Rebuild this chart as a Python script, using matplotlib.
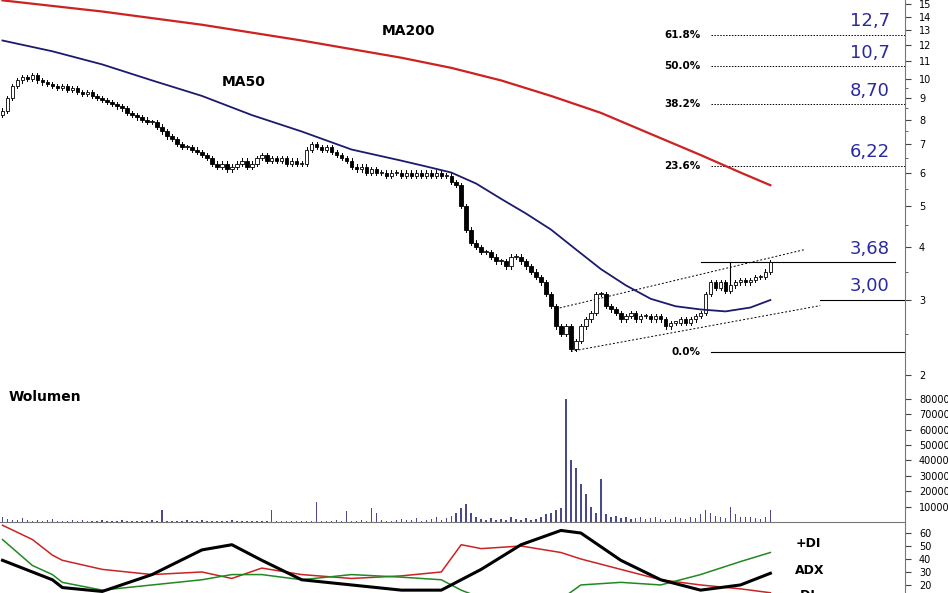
import numpy as np
import matplotlib
matplotlib.use("Agg")
import matplotlib.pyplot as plt
from matplotlib.ticker import FixedLocator, NullFormatter

close = [8.4, 9.0, 9.6, 9.9, 10.1, 10.0, 10.2, 9.9, 9.8, 9.7,
         9.6, 9.5, 9.6, 9.4, 9.5, 9.3, 9.2, 9.3, 9.1, 9.0,
         8.9, 8.8, 8.7, 8.6, 8.5, 8.3, 8.2, 8.1, 8.0, 7.9,
         7.9, 7.7, 7.5, 7.3, 7.2, 7.0, 6.9, 6.9, 6.8, 6.7,
         6.6, 6.5, 6.3, 6.2, 6.3, 6.1, 6.2, 6.3, 6.4, 6.2,
         6.3, 6.5, 6.6, 6.4, 6.5, 6.4, 6.5, 6.3, 6.4, 6.3,
         6.3, 6.8, 7.0, 6.9, 6.8, 6.9, 6.7, 6.6, 6.5, 6.4,
         6.2, 6.1, 6.2, 6.0, 6.1, 6.0, 6.0, 5.9, 6.0, 6.0,
         5.9, 6.0, 5.9, 6.0, 5.9, 6.0, 5.9, 6.0, 5.9, 5.9,
         5.7, 5.6, 5.0, 4.4, 4.1, 4.0, 3.9, 3.9, 3.8, 3.7,
         3.7, 3.6, 3.8, 3.8, 3.7, 3.6, 3.5, 3.4, 3.3, 3.1,
         2.9, 2.6, 2.5, 2.6, 2.3, 2.4, 2.6, 2.7, 2.8, 3.1,
         3.1, 2.9, 2.85, 2.8, 2.7, 2.75, 2.8, 2.7, 2.75, 2.75,
         2.7, 2.75, 2.7, 2.6, 2.65, 2.65, 2.7, 2.65, 2.7, 2.75,
         2.8, 3.1, 3.3, 3.2, 3.3, 3.15, 3.25, 3.3, 3.35, 3.3,
         3.35, 3.4, 3.4, 3.5, 3.68]
open_first = 8.2

volume = [3000, 2000, 1500, 1000, 2500, 1200, 800, 1500, 600, 1000,
          2000, 800, 500, 700, 1200, 900, 1000, 600, 400, 800,
          1500, 700, 500, 900, 1100, 600, 800, 700, 500, 900,
          1200, 800, 8000, 600, 900, 700, 500, 1000, 800, 600,
          1500, 700, 600, 900, 800, 500, 1100, 600, 700, 900,
          800, 600, 700, 900, 8000, 600, 500, 700, 800, 600,
          900, 700, 500, 13000, 800, 600, 700, 1000, 500, 7000,
          900, 800, 1200, 900, 9000, 6000, 1000, 800, 900, 1100,
          2000, 1500, 1000, 2500, 800, 1200, 2000, 3000, 1500, 2500,
          4000, 6000, 9000, 12000, 6000, 3000, 2000, 1500, 2500, 1500,
          2000, 1500, 3000, 2000, 1500, 2500, 1500, 2000, 3000, 5000,
          6000, 8000, 9000, 80000, 40000, 35000, 25000, 18000, 10000, 6000,
          28000, 5000, 3000, 4000, 2500, 3000, 2000, 2500, 3000, 2000,
          2500, 3000, 2000, 1500, 2000, 3000, 2500, 2000, 3000, 2500,
          5000, 8000, 6000, 4000, 3000, 2500, 10000, 5000, 3000, 3500,
          3000, 2500, 2000, 3000, 8000]

ma50_x = [0, 10, 20, 30, 40, 50, 60, 70, 80, 85, 90, 95, 100, 105, 110, 115,
          120, 125, 130, 135, 140, 145, 150, 154]
ma50 = [12.3, 11.6, 10.8, 9.9, 9.1, 8.2, 7.5, 6.8, 6.4, 6.2, 6.0, 5.65, 5.2,
        4.8, 4.4, 3.95, 3.55, 3.25, 3.02, 2.9, 2.85, 2.82, 2.88, 3.0]
ma200_x = [0, 20, 40, 60, 80, 90, 100, 110, 120, 130, 140, 148, 154]
ma200 = [15.3, 14.4, 13.4, 12.3, 11.2, 10.6, 9.9, 9.1, 8.3, 7.4, 6.6, 6.0, 5.6]

ind_x = [0, 6, 10, 12, 20, 30, 40, 46, 52, 60, 70, 80, 88, 92, 96, 104, 112, 116, 124, 132, 140, 148, 154]
pdi = [66, 55, 43, 39, 32, 28, 30, 25, 33, 28, 25, 27, 30, 51, 48, 50, 45, 40, 32, 24, 20, 17, 14]
adx = [39, 30, 24, 18, 15, 28, 47, 51, 39, 24, 20, 16, 16, 24, 32, 51, 62, 60, 39, 24, 16, 20, 29]
mdi = [55, 35, 28, 22, 16, 20, 24, 28, 28, 24, 28, 26, 24, 16, 10, 8, 9, 20, 22, 20, 28, 38, 45]

fib_labels = ["61.8%", "50.0%", "38.2%", "23.6%"]
fib_values = [12.7, 10.7, 8.7, 6.22]
fib_texts = ["12,7", "10,7", "8,70", "6,22"]
fib_zero = 2.26
res_levels = [3.68, 3.00]
res_texts = ["3,68", "3,00"]
price_ticks = list(range(2, 16))
vol_ticks = [10000, 20000, 30000, 40000, 50000, 60000, 70000, 80000]
ind_ticks = [20, 30, 40, 50, 60]

W, H = 948, 593
fig = plt.figure(figsize=(W / 100, H / 100), dpi=100)
L, R = 0, 905 / W
def ax_at(top, bot):
    return fig.add_axes([L, 1 - bot / H, R, (bot - top) / H])

ax = ax_at(0, 385)
axv = ax_at(385, 522)
axi = ax_at(522, 593)
XMAX = 181
for a in (ax, axv, axi):
    a.set_xlim(-0.5, XMAX)
    a.set_xticks([])
    for s in ("left", "top", "bottom"):
        a.spines[s].set_visible(False)
    a.spines["right"].set_color("#777777")
    a.yaxis.tick_right()
    a.tick_params(axis="y", labelsize=7, colors="#444444", length=4, pad=6)
    a.tick_params(axis="y", labelcolor="black")
axi.spines["top"].set_visible(True)
axi.spines["top"].set_color("#777777")

ax.set_yscale("log")
ax.set_ylim(1.89, 15.33)
ax.yaxis.set_major_locator(FixedLocator(price_ticks))
ax.yaxis.set_major_formatter(matplotlib.ticker.FixedFormatter([str(t) for t in price_ticks]))
ax.yaxis.set_minor_locator(FixedLocator([2.5, 3.5, 4.5, 5.5, 6.5, 7.5, 8.5, 9.5]))
ax.yaxis.set_minor_formatter(NullFormatter())
ax.tick_params(axis="y", which="minor", length=2, colors="#444444")

n = len(close)
x = np.arange(n)
opens = [open_first] + close[:-1]
for i in range(n):
    o, c = opens[i], close[i]
    hi, lo = max(o, c) * 1.012, min(o, c) * 0.988
    ax.plot([i, i], [lo, hi], color="black", lw=0.7, zorder=2)
    up = c >= o
    ax.bar(i, abs(c - o) if abs(c - o) > 0.01 else 0.02, bottom=min(o, c), width=0.7,
           color="white" if up else "black", edgecolor="black", lw=0.6, zorder=3)

ax.plot(ma200_x, ma200, color="#cc2222", lw=1.6, zorder=4)
ax.plot(ma50_x, ma50, color="#1a1a6e", lw=1.3, zorder=4)
ax.text(44, 9.6, "MA50", fontsize=10, fontweight="bold")
ax.text(76, 12.7, "MA200", fontsize=10, fontweight="bold")

for lab, v, t in zip(fib_labels, fib_values, fib_texts):
    ax.plot([142, XMAX], [v, v], color="black", lw=0.7, ls=(0, (1.5, 1.5)))
    ax.text(140, v, lab, fontsize=7.5, fontweight="bold", ha="right", va="center")
    ax.text(170, v * 1.025, t, fontsize=13, color="#2a2aa0", ha="left", va="bottom")
ax.plot([142, XMAX], [fib_zero, fib_zero], color="black", lw=0.8)
ax.text(140, fib_zero, "0.0%", fontsize=7.5, fontweight="bold", ha="right", va="center")
ax.plot([140, 179], [res_levels[0]] * 2, color="black", lw=0.8)
ax.plot([146, 146], [res_levels[0], 3.25], color="black", lw=0.8)
ax.plot([164, XMAX], [res_levels[1]] * 2, color="black", lw=0.8)
ax.text(170, res_levels[0] * 1.025, res_texts[0], fontsize=13, color="#2a2aa0", va="bottom")
ax.text(170, res_levels[1] * 1.025, res_texts[1], fontsize=13, color="#2a2aa0", va="bottom")
ax.plot([114, 164], [2.27, 2.91], color="black", lw=0.7, ls=(0, (2, 2)))
ax.plot([111, 161], [2.86, 3.95], color="black", lw=0.7, ls=(0, (2, 2)))

axv.set_ylim(0, 89000)
axv.bar(x, volume, width=0.3, color="#4a4a8a")
axv.set_yticks(vol_ticks)
axv.set_yticklabels([str(t) for t in vol_ticks])
axv.text(0.01, 0.88, "Wolumen", transform=axv.transAxes, fontsize=10, fontweight="bold")

axi.set_ylim(13.8, 68.5)
axi.plot(ind_x, pdi, color="#cc2222", lw=1.1)
axi.plot(ind_x, mdi, color="#228822", lw=1.1)
axi.plot(ind_x, adx, color="black", lw=2.2)
axi.set_yticks(ind_ticks)
axi.set_yticklabels([str(t) for t in ind_ticks])
for t, yv in (("+DI", 52), ("ADX", 31), ("-DI", 12)):
    axi.text(159, yv, t, fontsize=9, fontweight="bold", va="center", clip_on=False)

fig.savefig("out.png", dpi=100)
